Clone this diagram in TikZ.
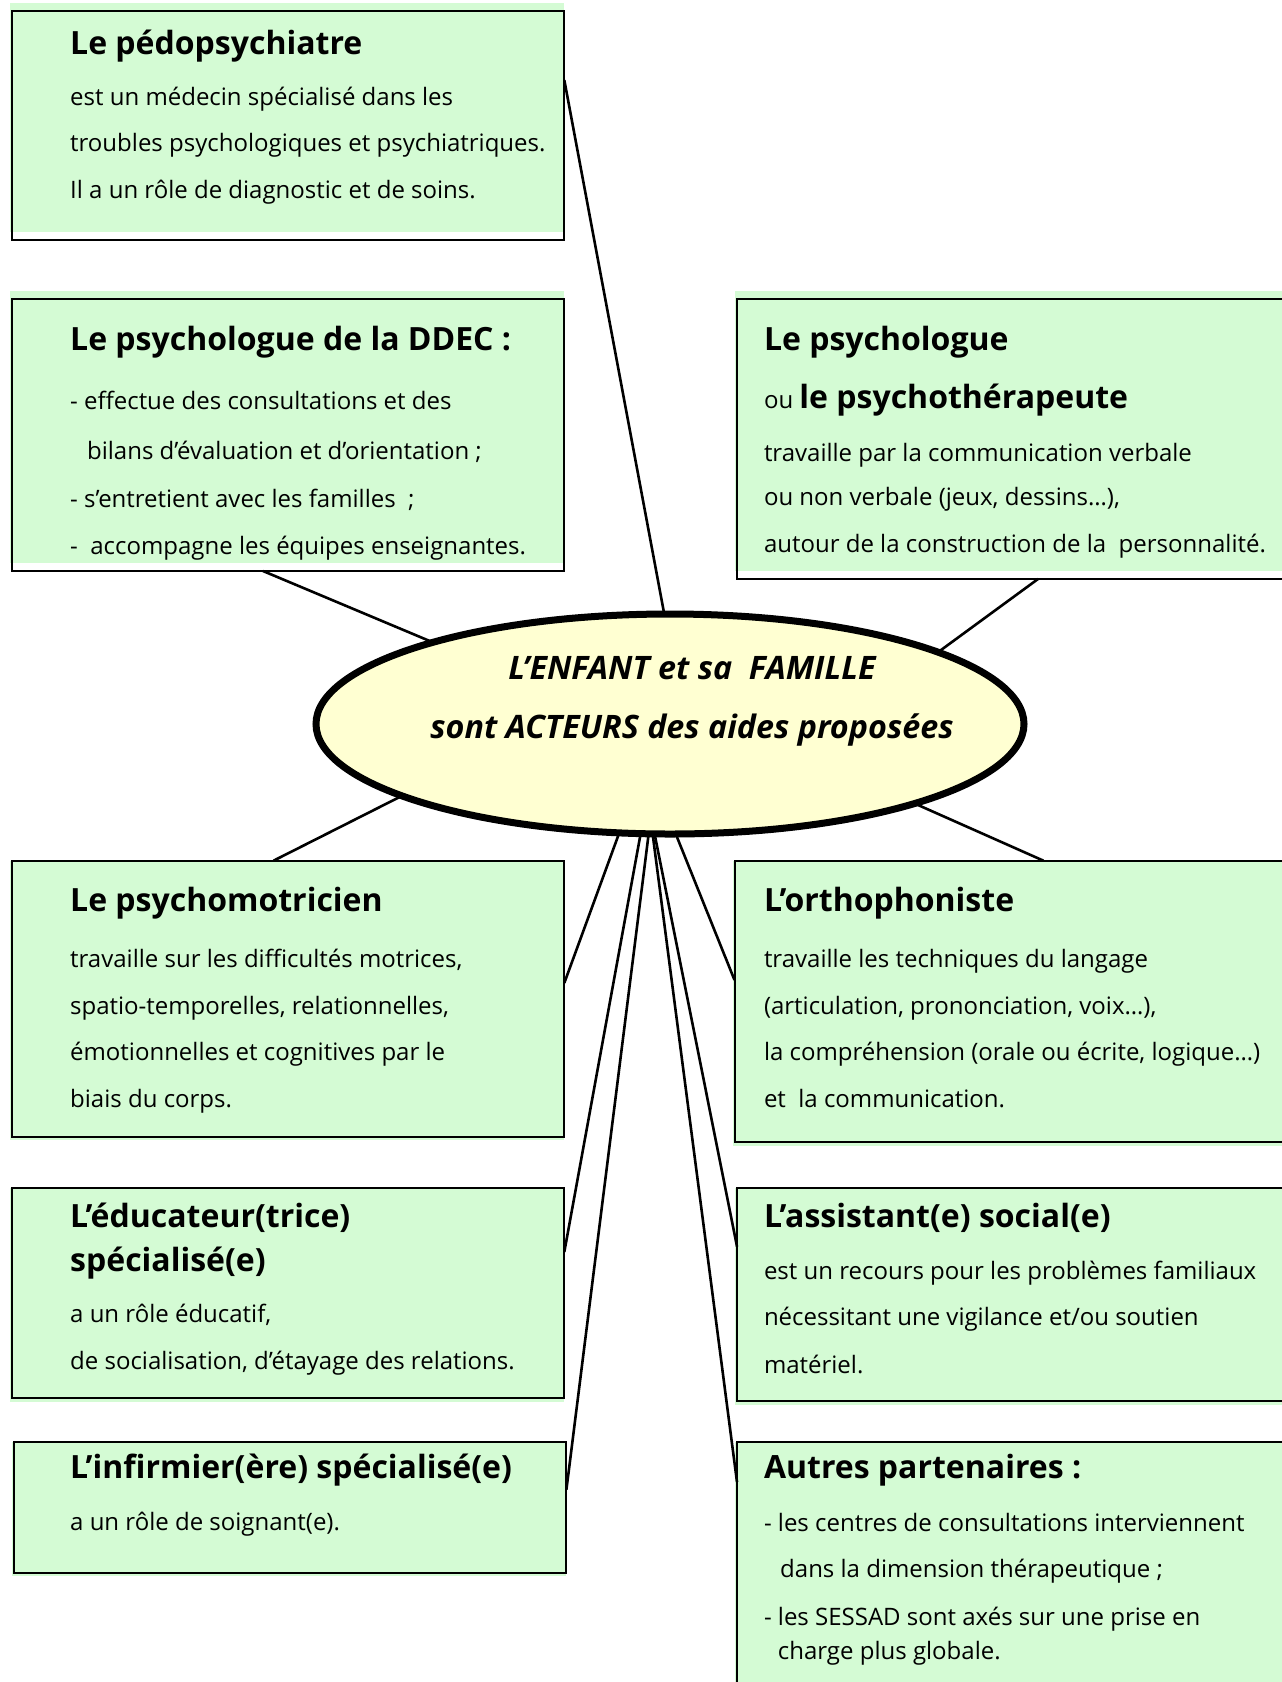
\documentclass[tikz,border=0pt]{standalone}
\usepackage{fontspec}
\setmainfont{Open Sans}
\usetikzlibrary{shapes.geometric,backgrounds}
\definecolor{boxgreen}{RGB}{212,251,212}
\definecolor{ellyellow}{RGB}{255,255,210}
\tikzset{
  box/.style={draw=black, line width=2pt, rectangle, inner sep=0pt, outer sep=0pt, anchor=north west},
  ttl/.style={anchor=base west, inner sep=0pt, font=\fontsize{32}{37}\selectfont\bfseries},
  txt/.style={anchor=base west, inner sep=0pt, yshift=-2.6pt, font=\fontsize{24}{28}\selectfont},
  etxt/.style={anchor=base, inner sep=0pt, font=\fontsize{32.3}{37}\selectfont\bfseries\itshape},
  conn/.style={line width=2.6pt, line cap=butt},
}
\begin{document}
\begin{tikzpicture}[x=1pt,y=-1pt]
\useasboundingbox (0,0) rectangle (1282,1682);
% boxes (borders)
\node[box, minimum width=552.6pt, minimum height=229.3pt] (b1) at (11.7,10.7) {};
\node[box, minimum width=552.6pt, minimum height=272pt] (b2) at (11.7,299) {};
\node[box, minimum width=563pt, minimum height=280pt] (b3) at (737,299) {};
\node[box, minimum width=552.6pt, minimum height=276pt] (b4) at (11.7,860.7) {};
\node[box, minimum width=566pt, minimum height=281.3pt] (b5) at (734.5,860.7) {};
\node[box, minimum width=552.6pt, minimum height=209.7pt] (b6) at (11.7,1188.3) {};
\node[box, minimum width=563pt, minimum height=212.7pt] (b7) at (737,1188.3) {};
\node[box, minimum width=552.4pt, minimum height=130.9pt] (b8) at (14,1441.7) {};
\node[box, minimum width=563pt, minimum height=260pt] (b9) at (737,1441.7) {};
% fills behind
\begin{scope}[on background layer]
  \fill[white] (0,0) rectangle (1282,1682);
  \foreach \b in {b1,b2,b3}{
    \fill[boxgreen] ([shift={(-1.7pt,8pt)}]\b.north west) rectangle ([yshift=8pt]\b.south east);
  }
  \foreach \b in {b4,b5,b6,b7,b8,b9}{
    \fill[boxgreen] ([shift={(-1.7pt,0pt)}]\b.north west) rectangle ([yshift=-3.5pt]\b.south east);
  }
\end{scope}
% central ellipse
\node[ellipse, draw=black, line width=7pt, fill=ellyellow, minimum width=708pt, minimum height=220pt, inner sep=0pt, outer sep=0pt] (ell) at (670,724) {};
\node[etxt] (e1) at (692,679.5) {L’ENFANT et sa\ \ FAMILLE};
\node[etxt] (e2) at (692,738.5) {sont ACTEURS des aides proposées};
% connectors
\draw[conn] ([yshift=-69.3pt]b1.north east) -- (ell.93.6);
\draw[conn] ([xshift=251.3pt]b2.south west) -- (ell.161.9);
\draw[conn] ([xshift=301pt]b3.south west) -- (ell.15.2);
\draw[conn] ([xshift=261.8pt]b4.north west) -- (ell.195);
\draw[conn] ([xshift=309pt]b5.north west) -- (ell.342.4);
\draw[conn] ([yshift=-122.3pt]b4.north east) -- (ell.245.3);
\draw[conn] ([yshift=-119.3pt]b5.north west) -- (ell.273.1);
\draw[conn] ([yshift=-63.7pt]b6.north east) -- (ell.255.7);
\draw[conn] ([yshift=-58.3pt]b7.north west) -- (ell.262.7);
\draw[conn] ([yshift=-48pt]b8.north east) -- (ell.259.7);
\draw[conn] ([yshift=-40.3pt]b9.north west) -- (ell.261.2);
% box 1
\node[ttl] (t1) at (70,54) {Le pédopsychiatre};
\node[txt] (t1a) at (70,102.5) {est un médecin spécialisé dans les};
\node[txt] (t1b) at (70,148.6) {troubles psychologiques et psychiatriques.};
\node[txt] (t1c) at (70,195.8) {Il a un rôle de diagnostic et de soins.};
% box 2
\node[ttl] (t2) at (70,350) {Le psychologue de la DDEC :};
\node[txt] (t2a) at (70,407) {- effectue des consultations et des};
\node[txt] (t2b) at (86.9,456.5) {bilans d’évaluation et d’orientation ;};
\node[txt] (t2c) at (70,504.7) {- s’entretient avec les familles\ \ ;};
\node[txt] (t2d) at (70,552) {-\ \ accompagne les équipes enseignantes.};
% box 3
\node[ttl] (t3) at (763.8,350) {Le psychologue};
\node[txt, yshift=2.6pt] (t3a) at (763.8,408) {ou {\fontsize{32}{37}\selectfont\bfseries le psychothérapeute}};
\node[txt] (t3b) at (763.8,458.6) {travaille par la communication verbale};
\node[txt] (t3c) at (763.8,502.6) {ou non verbale (jeux, dessins…),};
\node[txt] (t3d) at (763.8,549.8) {autour de la construction de la\ \ personnalité.};
% box 4
\node[ttl] (t4) at (70,911.7) {Le psychomotricien};
\node[txt] (t4a) at (70,965) {travaille sur les difficultés motrices,};
\node[txt] (t4b) at (70,1012) {spatio-temporelles, relationnelles,};
\node[txt] (t4c) at (70,1058) {émotionnelles et cognitives par le};
\node[txt] (t4d) at (70,1105) {biais du corps.};
% box 5
\node[ttl] (t5) at (763.8,911.7) {L’orthophoniste};
\node[txt] (t5a) at (763.8,965) {travaille les techniques du langage};
\node[txt] (t5b) at (763.8,1012) {(articulation, prononciation, voix…),};
\node[txt] (t5c) at (763.8,1058) {la compréhension (orale ou écrite, logique…)};
\node[txt] (t5d) at (763.8,1105) {et\ \ la communication.};
% box 6
\node[ttl] (t6) at (70,1227.4) {L’éducateur(trice)};
\node[ttl] (t6b) at (70,1271.4) {spécialisé(e)};
\node[txt] (t6c) at (70,1320) {a un rôle éducatif,};
\node[txt] (t6d) at (70,1367) {de socialisation, d’étayage des relations.};
% box 7
\node[ttl] (t7) at (763.8,1227.4) {L’assistant(e) social(e)};
\node[txt] (t7a) at (763.8,1277) {est un recours pour les problèmes familiaux};
\node[txt] (t7b) at (763.8,1323) {nécessitant une vigilance et/ou soutien};
\node[txt] (t7c) at (763.8,1370.4) {matériel.};
% box 8
\node[ttl] (t8) at (70,1478.5) {L’infirmier(ère) spécialisé(e)};
\node[txt] (t8a) at (70,1528) {a un rôle de soignant(e).};
% box 9
\node[ttl] (t9) at (763.8,1478.5) {Autres partenaires :};
\node[txt] (t9a) at (763.8,1529) {- les centres de consultations interviennent};
\node[txt] (t9b) at (780,1575) {dans la dimension thérapeutique ;};
\node[txt] (t9c) at (763.8,1622.5) {- les SESSAD sont axés sur une prise en};
\node[txt] (t9d) at (777.7,1656.8) {charge plus globale.};
\end{tikzpicture}
\end{document}
